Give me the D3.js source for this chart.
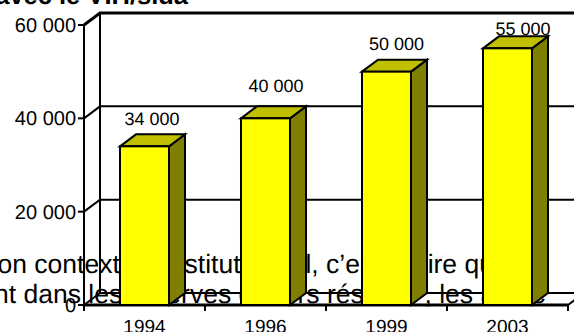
<!DOCTYPE html>
<html>
<head>
<meta charset="utf-8">
<script src="https://cdn.jsdelivr.net/npm/d3@7"></script>
<style>
html,body{margin:0;padding:0;background:#fff;overflow:hidden}
text{font-family:"Liberation Sans",Arial,sans-serif;fill:#000;text-rendering:geometricPrecision}
</style>
</head>
<body>
<svg id="chart" width="574" height="332"></svg>
<script>
const years = ["1994", "1996", "1999", "2003"];
const cases = [34000, 40000, 50000, 55000];
const tickValues = [0, 20000, 40000, 60000];
const tickLabels = ["0", "20 000", "40 000", "60 000"];
const valueLabels = ["34 000", "40 000", "50 000", "55 000"];
const heading = "avec le VIH/sida";
const bodyWords = [
  "on contexte constitutionnel, c\u2019est-\u00e0-dire que",
  "nt dans les r\u00e9serves et hors r\u00e9serve",
  ", les autoc"
];
const bodyStarts = [-2.5, -6, 424.5];
const bodyBaselines = [273, 303, 303];
const labelShiftX = [7.5, 10.5, 10, 15.5];
const labelLift = [9, 14, 9.5, 1];

const depthX = 16, depthY = -12;
const svg = d3.select("#chart");
const x = d3.scaleBand().domain(years).range([84, 568]).paddingInner(0.595).paddingOuter(0.2975);
const y = d3.scaleLinear().domain([0, 60000]).range([305, 25]);
const x0 = x.range()[0], x1 = x.range()[1];

// running text of the page that sits behind the plot
svg.append("text").attr("x", 188).attr("y", 4).attr("text-anchor", "end")
  .attr("font-size", 25.5).attr("font-weight", "bold").text(heading);
svg.append("g").selectAll("text").data(bodyWords).join("text")
  .attr("font-size", 26.5)
  .attr("x", (d, i) => bodyStarts[i]).attr("y", (d, i) => bodyBaselines[i])
  .text(d => d);

// back wall and floor
const frame = svg.append("g").attr("fill", "none").attr("stroke", "#000");
frame.append("line").attr("x1", x0 + depthX).attr("x2", x0 + depthX)
  .attr("y1", y(60000) + depthY).attr("y2", y(0) + depthY).attr("stroke-width", 2);
frame.append("line").attr("x1", x0).attr("x2", x0)
  .attr("y1", y(60000)).attr("y2", y(0)).attr("stroke-width", 2);
frame.selectAll("path.grid").data(tickValues).join("path").attr("class", "grid")
  .attr("stroke-width", d => d === 60000 ? 3 : 2)
  .attr("d", d => `M${x0},${y(d)}L${x0 + depthX},${y(d) + depthY}L${x1 + depthX},${y(d) + depthY}`);
frame.append("path").attr("stroke-width", 3)
  .attr("d", `M${x0},${y(0)}L${x1},${y(0)}`);
frame.append("path").attr("stroke-width", 2)
  .attr("d", `M${x1},${y(0)}L${x1 + depthX},${y(0) + depthY}`);

// ticks on both axes
svg.append("g").attr("stroke", "#000").attr("stroke-width", 2)
  .selectAll("line").data(tickValues).join("line")
  .attr("x1", x0 - 6).attr("x2", x0).attr("y1", d => y(d)).attr("y2", d => y(d));
svg.append("g").attr("stroke", "#000").attr("stroke-width", 2)
  .selectAll("line").data(d3.range(years.length + 1)).join("line")
  .attr("x1", i => x0 + i * x.step()).attr("x2", i => x0 + i * x.step())
  .attr("y1", y(0)).attr("y2", y(0) + 6);

svg.append("g").selectAll("text").data(tickValues).join("text")
  .attr("x", x0 - 8).attr("y", d => y(d) + 7).attr("text-anchor", "end")
  .attr("font-size", 20).text((d, i) => tickLabels[i]);
svg.append("g").selectAll("text").data(years).join("text")
  .attr("x", d => x(d) + x.bandwidth() / 2).attr("y", 332.5).attr("text-anchor", "middle")
  .attr("font-size", 19).text(d => d);

// three-faced columns
const rows = years.map((yr, i) => ({yr, v: cases[i], label: valueLabels[i], dx: labelShiftX[i], lift: labelLift[i]}));
const bars = svg.append("g").selectAll("g").data(rows).join("g")
  .attr("stroke", "#000").attr("stroke-width", 2).attr("stroke-linejoin", "miter");
bars.append("path").attr("fill", "#808000").attr("d", d => {
  const r = x(d.yr) + x.bandwidth(), t = y(d.v), b = y(0);
  return `M${r},${t}L${r + depthX},${t + depthY}L${r + depthX},${b + depthY}L${r},${b}Z`;
});
bars.append("path").attr("fill", "#c0c000").attr("d", d => {
  const l = x(d.yr), r = l + x.bandwidth(), t = y(d.v);
  return `M${l},${t}L${l + depthX},${t + depthY}L${r + depthX},${t + depthY}L${r},${t}Z`;
});
bars.append("rect").attr("fill", "#ffff00")
  .attr("x", d => x(d.yr)).attr("width", x.bandwidth())
  .attr("y", d => y(d.v)).attr("height", d => y(0) - y(d.v));

svg.append("g").selectAll("text").data(rows).join("text")
  .attr("x", d => x(d.yr) + x.bandwidth() / 2 + d.dx).attr("y", d => y(d.v) + depthY - d.lift)
  .attr("text-anchor", "middle").attr("font-size", 18).text(d => d.label);
</script>
</body>
</html>
